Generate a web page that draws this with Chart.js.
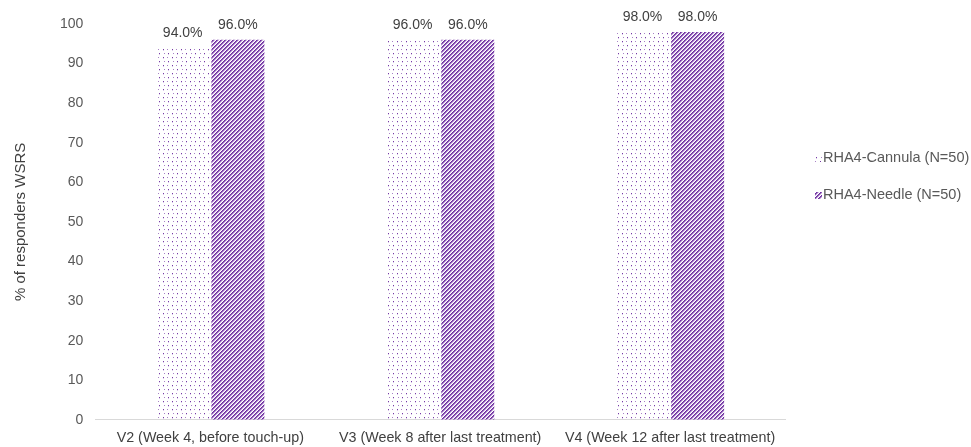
<!DOCTYPE html>
<html>
<head>
<meta charset="utf-8">
<script src="https://cdn.jsdelivr.net/npm/chart.js@4"></script>
<style>
  html, body { margin: 0; padding: 0; background: #fff; }
  #wrap { width: 971px; height: 447px; }
</style>
</head>
<body>
<div id="wrap"><canvas id="chart" width="971" height="447"></canvas></div>
<script>
// Chart data
const categories = [
  "V2 (Week 4, before touch-up)",
  "V3 (Week 8 after last treatment)",
  "V4 (Week 12 after last treatment)"
];
const seriesNames = ["RHA4-Cannula (N=50)", "RHA4-Needle (N=50)"];
const cannula = [94.0, 96.0, 98.0];
const needle = [96.0, 96.0, 98.0];
const yTicks = [0, 10, 20, 30, 40, 50, 60, 70, 80, 90, 100];

const purple = "#7030A0";
const font = "'Liberation Sans', Arial, sans-serif";

// Small dotted pattern (staggered purple dots)
function dotPattern() {
  const c = document.createElement("canvas");
  c.width = 9; c.height = 8;
  const g = c.getContext("2d");
  g.fillStyle = "rgba(112,48,160,0.95)";
  g.fillRect(1, 1, 1, 1);
  g.fillRect(6, 5, 1, 1);
  g.fillStyle = "rgba(112,48,160,0.6)";
  g.fillRect(5, 1, 1, 1);
  g.fillRect(2, 5, 1, 1);
  g.fillStyle = "rgba(150,100,200,0.35)";
  g.fillRect(1, 2, 1, 1);
  g.fillRect(6, 6, 1, 1);
  return g.createPattern(c, "repeat");
}

// Diagonal stripes going up to the right
function stripePattern() {
  const c = document.createElement("canvas");
  c.width = 4; c.height = 4;
  const g = c.getContext("2d");
  for (let x = 0; x < 4; x++) {
    for (let y = 0; y < 4; y++) {
      const k = (x + y) % 4;
      if (k === 0 || k === 1) {
        g.fillStyle = k === 0 ? purple : "#8f5cb8";
        g.fillRect(x, y, 1, 1);
      } else if (k === 2) {
        g.fillStyle = "#d9c6e8";
        g.fillRect(x, y, 1, 1);
      }
    }
  }
  return g.createPattern(c, "repeat");
}

const fills = [dotPattern(), stripePattern()];

// Value labels above the bars
const valueLabels = {
  id: "valueLabels",
  afterDatasetsDraw(chart) {
    const ctx = chart.ctx;
    ctx.save();
    ctx.font = "14px " + font;
    ctx.fillStyle = "#404040";
    ctx.textAlign = "center";
    ctx.textBaseline = "bottom";
    chart.data.datasets.forEach((ds, i) => {
      chart.getDatasetMeta(i).data.forEach((bar, j) => {
        ctx.fillText(ds.data[j].toFixed(1) + "%", bar.x, bar.y - 8);
      });
    });
    ctx.restore();
  }
};

// Legend on the right side
const sideLegend = {
  id: "sideLegend",
  afterDraw(chart) {
    const ctx = chart.ctx;
    ctx.save();
    ctx.font = "14.5px " + font;
    ctx.textBaseline = "middle";
    const x = 815, ys = [158, 195];
    seriesNames.forEach((name, i) => {
      ctx.fillStyle = fills[i];
      ctx.fillRect(x, ys[i] - 3, 7, 7);
      ctx.fillStyle = "#595959";
      ctx.fillText(name, x + 8, ys[i]);
    });
    ctx.restore();
  }
};

new Chart(document.getElementById("chart"), {
  type: "bar",
  data: {
    labels: categories,
    datasets: [
      { label: seriesNames[0], data: cannula, backgroundColor: fills[0] },
      { label: seriesNames[1], data: needle, backgroundColor: fills[1] }
    ]
  },
  options: {
    responsive: false,
    animation: false,
    layout: { padding: { left: 8, right: 186, top: 24, bottom: -10 } },
    datasets: { bar: { categoryPercentage: 0.48, barPercentage: 0.96 } },
    plugins: {
      legend: { display: false },
      tooltip: { enabled: false }
    },
    scales: {
      x: {
        grid: { display: false, drawTicks: false },
        border: { color: "#d9d9d9" },
        ticks: { color: "#404040", font: { family: font, size: 14.3 }, padding: 10, maxRotation: 0 }
      },
      y: {
        min: 0,
        max: 100,
        afterBuildTicks: (axis) => { axis.ticks = yTicks.map(v => ({ value: v })); },
        grid: { display: false, drawTicks: false },
        border: { display: false },
        ticks: { color: "#595959", font: { family: font, size: 14 }, padding: 12 },
        title: {
          display: true,
          text: "% of responders WSRS",
          color: "#404040",
          font: { family: font, size: 15 },
          padding: { bottom: 18 }
        }
      }
    }
  },
  plugins: [valueLabels, sideLegend]
});
</script>
</body>
</html>
